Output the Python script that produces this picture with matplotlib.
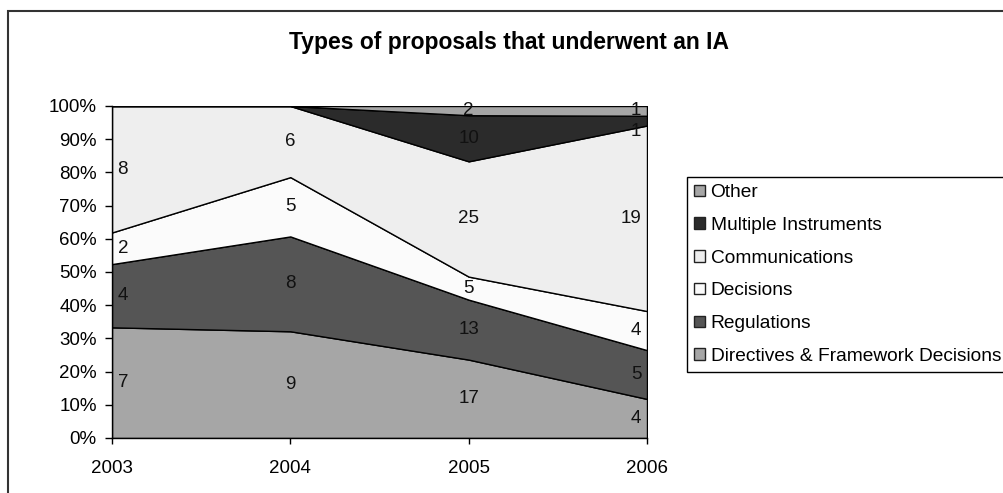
import matplotlib
matplotlib.use('Agg')
import matplotlib.pyplot as plt
from matplotlib.patches import Rectangle, Patch

plt.rcParams['font.family'] = ['Liberation Sans', 'DejaVu Sans']

years = ['2003', '2004', '2005', '2006']
series_names = ['Directives & Framework Decisions', 'Regulations', 'Decisions',
                'Communications', 'Multiple Instruments', 'Other']
directives = [7, 9, 17, 4]
regulations = [4, 8, 13, 5]
decisions = [2, 5, 5, 4]
communications = [8, 6, 25, 19]
multiple = [0, 0, 10, 1]
other = [0, 0, 2, 1]
colors = ['#a6a6a6', '#555555', '#fbfbfb', '#eeeeee', '#2b2b2b', '#a6a6a6']

series = [directives, regulations, decisions, communications, multiple, other]
totals = [sum(col) for col in zip(*series)]
shares = [[v / t for v, t in zip(s, totals)] for s in series]

fig = plt.figure(figsize=(10.04, 4.93), dpi=100)
ax = fig.add_axes([112 / 1004, 55 / 493, 535 / 1004, 332 / 493])

x = list(range(len(years)))
ax.stackplot(x, *shares, colors=colors, edgecolor='black', linewidth=1.0)

# value labels in the middle of each band, nudged down when two collide
for i in x:
    spots = []
    bottom = 0.0
    for s, sh in zip(series, shares):
        if s[i]:
            spots.append([bottom + sh[i] / 2, s[i]])
        bottom += sh[i]
    spots.reverse()
    for k in range(1, len(spots)):
        if spots[k - 1][0] - spots[k][0] < 0.06:
            spots[k][0] = spots[k - 1][0] - 0.063
    if i == 0:
        ha, dx = 'left', 4
    elif i == len(years) - 1:
        ha, dx = 'right', -4
    else:
        ha, dx = 'center', 0
    for y, v in spots:
        ax.annotate(str(v), (i, y), xytext=(dx, 0), textcoords='offset points',
                    ha=ha, va='center', fontsize=13.5, color='#111111')

ax.set_xlim(0, len(years) - 1)
ax.set_ylim(0, 1)
ax.set_xticks(x)
ax.set_xticklabels(years)
ax.set_yticks([i / 10 for i in range(11)])
ax.set_yticklabels([f'{i * 10}%' for i in range(11)])
ax.tick_params(axis='y', direction='out', length=5, width=1, pad=6, labelsize=13.5)
ax.tick_params(axis='x', direction='out', length=4, width=1, pad=12, labelsize=13.5)
for side in ('top', 'right'):
    ax.spines[side].set_visible(False)
for side in ('left', 'bottom'):
    ax.spines[side].set_linewidth(1.0)
    ax.spines[side].set_zorder(5)

fig.text(509 / 1004, 1 - 43 / 493, 'Types of proposals that underwent an IA',
         ha='center', va='center', fontsize=16.5, fontweight='bold')

handles = [Patch(facecolor=c, edgecolor='#222222', linewidth=1.0, label=n)
           for c, n in zip(colors, series_names)][::-1]
leg = fig.legend(handles=handles, loc='upper left',
                 bbox_to_anchor=(687 / 1004, 1 - 177 / 493),
                 fontsize=13.8, frameon=True, fancybox=False, framealpha=1,
                 edgecolor='black', borderpad=0.38, labelspacing=0.82,
                 handlelength=0.55, handleheight=0.55, handletextpad=0.3,
                 borderaxespad=0)
leg.get_frame().set_linewidth(1.0)

# outer chart-area border (open to the right and bottom, as in the source)
fig.add_artist(Rectangle((8 / 1004, -0.2), 1.2, 1.2 - 11 / 493,
                         transform=fig.transFigure, fill=False,
                         edgecolor='#333333', linewidth=1.5, clip_on=False))

fig.savefig('out.png', dpi=100)
